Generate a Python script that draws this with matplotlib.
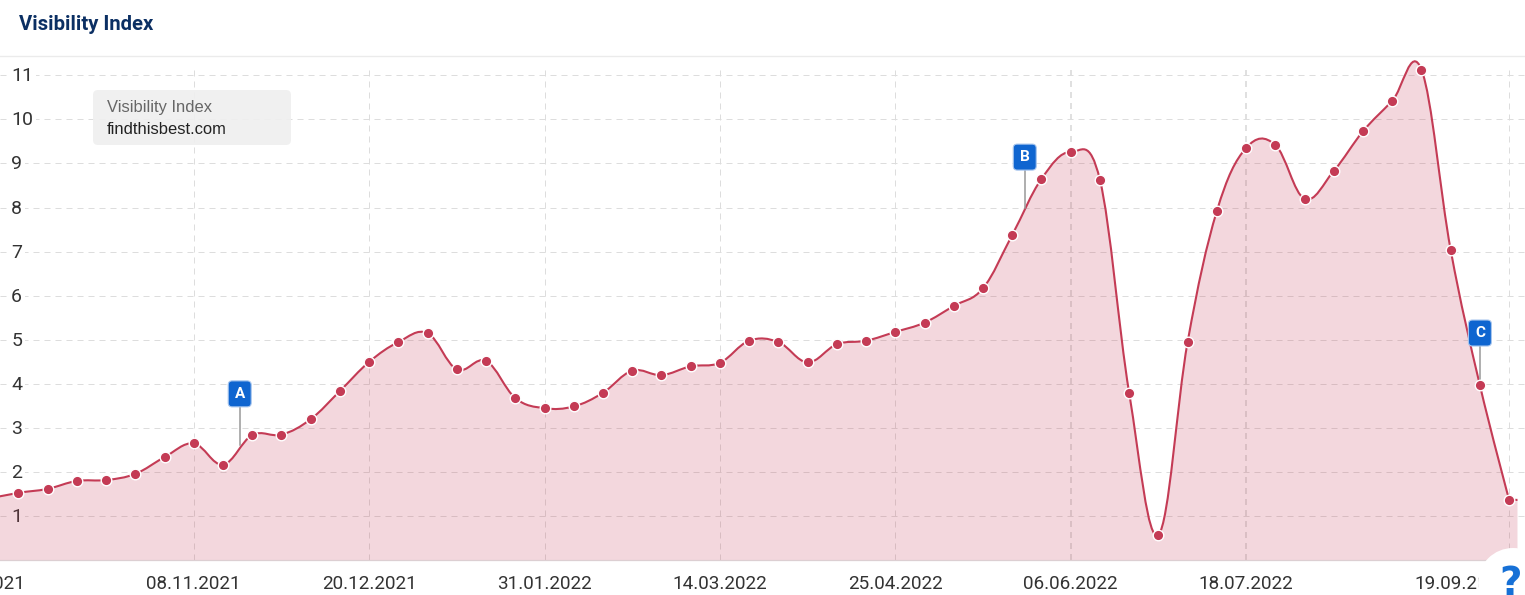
import numpy as np
import pandas as pd
import matplotlib
matplotlib.use("Agg")
import matplotlib.pyplot as plt
import matplotlib.dates as mdates
from matplotlib.patches import FancyBboxPatch, Circle, PathPatch
from matplotlib.path import Path
from matplotlib.lines import Line2D
from matplotlib.transforms import IdentityTransform, ScaledTranslation

W, H = 1525, 595

# weekly values, first one is 27.09.2021
start_date = "2021-09-27"
values = [1.53, 1.62, 1.80, 1.82, 1.96, 2.34, 2.65, 2.17, 2.84, 2.85,
          3.20, 3.84, 4.50, 4.95, 5.15, 4.33, 4.52, 3.68, 3.45, 3.49,
          3.80, 4.30, 4.20, 4.40, 4.48, 4.98, 4.95, 4.49, 4.90, 4.98,
          5.18, 5.39, 5.77, 6.17, 7.38, 8.65, 9.26, 8.63, 3.80, 0.58,
          4.95, 7.92, 9.35, 9.42, 8.20, 8.83, 9.73, 10.42, 11.13, 7.04,
          3.97, 1.37]
# the series runs on past both edges of the plot
lead_date, lead_value = "2021-09-20", 1.40
tail_date, tail_value = "2022-09-21", 1.37

y_ticks = list(range(1, 12))
grid_dates = ["2021-11-08", "2021-12-20", "2022-01-31", "2022-03-14", "2022-04-25",
              "2022-06-06", "2022-07-18", "2022-09-19"]
grid_widths = [0.72, 0.72, 0.72, 0.72, 0.72, 1.3, 1.3, 0.72]
x_labels = ["27.09.2021", "08.11.2021", "20.12.2021", "31.01.2022", "14.03.2022",
            "25.04.2022", "06.06.2022", "18.07.2022", "19.09.2022"]
x_label_dates = ["2021-09-27"] + grid_dates

event_names = ["A", "B", "C"]
event_dates = ["2021-11-19", "2022-05-26", "2022-09-12"]
event_low = [2.61, 7.99, 3.97]
event_top = [3.48, 8.85, 4.86]

RED = "#c43b55"
BLUE = "#0f65d0"
SMOOTH = 1.75


def num(d):
    return mdates.date2num(pd.Timestamp(d))


def spline_path(xs, ys, tail, closed_base=None):
    # handles lie along prev->next, no clamping, so the curve can overshoot a point
    n = len(xs)
    left = [(xs[i], ys[i]) for i in range(n)]
    right = [(xs[i], ys[i]) for i in range(n)]
    for i in range(1, n - 1):
        x, y = xs[i], ys[i]
        lx = (SMOOTH * x + xs[i - 1]) / (SMOOTH + 1)
        ly = (SMOOTH * y + ys[i - 1]) / (SMOOTH + 1)
        rx = (SMOOTH * x + xs[i + 1]) / (SMOOTH + 1)
        ry = (SMOOTH * y + ys[i + 1]) / (SMOOTH + 1)
        corr = (ry - ly) * (rx - x) / (rx - lx) + y - ry
        left[i] = (lx, ly + corr)
        right[i] = (rx, ry + corr)

    verts = [(xs[0], ys[0])]
    codes = [Path.MOVETO]
    for i in range(1, n):
        verts += [right[i - 1], left[i], (xs[i], ys[i])]
        codes += [Path.CURVE4] * 3
    # short straight stub after the last point
    verts.append(tail)
    codes.append(Path.LINETO)
    if closed_base is not None:
        verts += [(tail[0], closed_base), (xs[0], closed_base), (xs[0], ys[0])]
        codes += [Path.LINETO, Path.LINETO, Path.CLOSEPOLY]
    return Path(verts, codes)


dates = pd.date_range(start_date, periods=len(values), freq="7D")
point_x = mdates.date2num(dates)
all_x = [num(lead_date)] + list(point_x)
all_y = [lead_value] + values
tail = (num(tail_date), tail_value)

fig = plt.figure(figsize=(W / 100, H / 100), dpi=100, facecolor="white")
plt.rcParams["font.family"] = "Roboto"

bottom_px, top_px = 560.3, 56.0
ax = fig.add_axes([0, (H - bottom_px) / H, 1, (bottom_px - top_px) / H])
ax.patch.set_alpha(0)
px_per_day = 29.23 / 7
x0 = point_x[0] - 18.4 / px_per_day
ax.set_xlim(x0, x0 + W / px_per_day)
ax.set_ylim(0, (bottom_px - top_px) / 44.09)

for s in ["left", "right", "top"]:
    ax.spines[s].set_visible(False)
ax.spines["bottom"].set_color("#dccfd2")
ax.spines["bottom"].set_linewidth(0.9)
ax.spines["bottom"].set_zorder(4)

# grid
ax.set_axisbelow(True)
ax.yaxis.grid(True, color="#dddddd", linewidth=0.72, linestyle=(0, (6, 5)))
for d, lw in zip(grid_dates, grid_widths):
    ax.vlines(num(d), 0, 11.12, color="#dddddd", linewidth=lw,
              linestyle=(0, (4.32 / lw, 3.6 / lw)), zorder=1)

# area and line
ax.add_patch(PathPatch(spline_path(all_x, all_y, tail, closed_base=0), facecolor=RED, alpha=0.2,
                       edgecolor="none", zorder=2))
ax.add_patch(PathPatch(spline_path(all_x, all_y, tail), facecolor="none", edgecolor=RED,
                       linewidth=1.5, zorder=3))

# event stems
for d, low, top in zip(event_dates, event_low, event_top):
    ax.plot([num(d), num(d)], [low, top], color="#999999", linewidth=1.1, zorder=3.2)

ax.plot(point_x, values, linestyle="none", marker="o", markersize=7.6, color=RED,
        markeredgecolor="white", markeredgewidth=1.0, zorder=3.5, clip_on=False)

# ticks
ax.set_yticks(y_ticks)
ax.set_yticklabels([str(v) for v in y_ticks], ha="left", fontsize=14, color="#333333",
                   bbox=dict(facecolor="white", edgecolor="none", pad=2.0))
ax.tick_params(axis="y", length=0, pad=-8)
for lab in ax.get_yticklabels():
    lab.set_transform(lab.get_transform() + ScaledTranslation(0, 1 / 100, fig.dpi_scale_trans))
ax.set_xticks([num(d) for d in x_label_dates])
ax.set_xticklabels(x_labels, fontsize=13.6, color="#333333")
ax.tick_params(axis="x", length=0, pad=10.5)
tick_labels = ax.get_xticklabels()
tick_labels[0].set_ha("right")
tick_labels[0].set_transform(tick_labels[0].get_transform() + ScaledTranslation(7 / 100, 0, fig.dpi_scale_trans))
tick_labels[-1].set_ha("right")

# header
fig.add_artist(Line2D([0, 1], [(H - 55.5) / H] * 2, color="#ebebeb", linewidth=1.0))
fig.text(19 / W, (H - 25) / H, "Visibility Index", fontsize=14.6, fontweight="bold",
         color="#0b2f63", ha="left", va="center")

# legend box
fig.add_artist(FancyBboxPatch((97, H - 141), 190, 47, boxstyle="round,pad=4,rounding_size=5",
                              facecolor="#efefef", edgecolor="none", alpha=0.92,
                              transform=IdentityTransform(), zorder=2))
fig.text(107 / W, (H - 107.5) / H, "Visibility Index", family="Liberation Sans", fontsize=11.9,
         color="#666666", ha="left", va="center", zorder=3)
fig.text(107 / W, (H - 129.5) / H, "findthisbest.com", family="Liberation Sans", fontsize=11.9,
         color="#222222", ha="left", va="center", zorder=3)

# event flags
for name, d, top in zip(event_names, event_dates, event_top):
    fx, fy = ax.transData.transform((num(d), top))
    fig.add_artist(FancyBboxPatch((fx - 9.5, fy + 2), 19, 22, boxstyle="round,pad=2,rounding_size=4",
                                  facecolor=BLUE, edgecolor="#a8c6ee", linewidth=0.8,
                                  transform=IdentityTransform(), zorder=2))
    fig.text(fx / W, (fy + 13) / H, name, fontsize=11, fontweight="bold", color="white",
             ha="center", va="center", zorder=3)

# help button in the corner
fig.add_artist(Circle((1513, H - 583), 35, facecolor="white", edgecolor="none",
                      transform=IdentityTransform(), zorder=2))
fig.text(1511 / W, (H - 595) / H, "?", family="DejaVu Sans", fontsize=28, fontweight="bold",
         color="#1670d6", ha="center", va="baseline", zorder=3)

fig.savefig("out.png", dpi=100)
